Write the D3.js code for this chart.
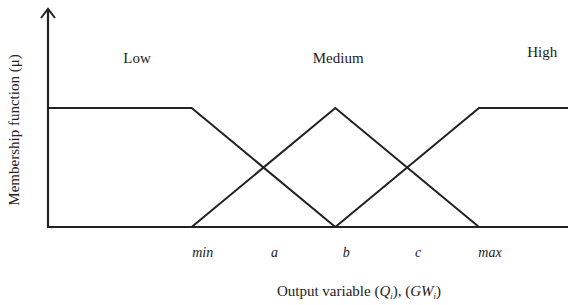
<!DOCTYPE html>
<html>
<head>
<meta charset="utf-8">
<script src="https://cdn.jsdelivr.net/npm/d3@7"></script>
<style>
  body { margin: 0; background: #fff; }
  text { font-family: "Liberation Serif", "DejaVu Serif", serif; fill: #222; }
</style>
</head>
<body>
<script>
// membership functions for the output variable
var tickNames = ["min", "a", "b", "c", "max"];
var tickValues = [1, 1.5, 2, 2.5, 3];
var setNames = ["Low", "Medium", "High"];
var lowX = [0, 1, 2];
var lowMu = [1, 1, 0];
var mediumX = [1, 2, 3];
var mediumMu = [0, 1, 0];
var highX = [2, 3, 3.62];
var highMu = [0, 1, 1];

var width = 568;
var height = 305;

var x = d3.scaleLinear().domain([0, 3]).range([48, 479]);
var y = d3.scaleLinear().domain([0, 1]).range([227, 108]);

var svg = d3.select("body").append("svg")
	.attr("width", width)
	.attr("height", height);

var series = [
	{name: setNames[0], xs: lowX, mu: lowMu, lx: 0.62, ly: 63},
	{name: setNames[1], xs: mediumX, mu: mediumMu, lx: 2.02, ly: 63},
	{name: setNames[2], xs: highX, mu: highMu, lx: 3.44, ly: 57}
];

var line = d3.line()
	.x(function(d){return x(d[0]);})
	.y(function(d){return y(d[1]);});

svg.selectAll("path.mf")
	.data(series)
	.enter().append("path")
	.attr("class", "mf")
	.attr("d", function(s){return line(s.xs.map(function(v, i){return [v, s.mu[i]];}));})
	.attr("fill", "none")
	.attr("stroke", "#222")
	.attr("stroke-width", 2);

svg.selectAll("text.setname")
	.data(series)
	.enter().append("text")
	.attr("class", "setname")
	.attr("x", function(s){return x(s.lx);})
	.attr("y", function(s){return s.ly;})
	.attr("text-anchor", "middle")
	.style("font-size", "15px")
	.text(function(s){return s.name;});

// axes
svg.append("line")
	.attr("x1", x(0)).attr("x2", width)
	.attr("y1", y(0)).attr("y2", y(0))
	.attr("stroke", "#222").attr("stroke-width", 2.2);

svg.append("line")
	.attr("x1", x(0)).attr("x2", x(0))
	.attr("y1", y(0) + 1).attr("y2", 9)
	.attr("stroke", "#222").attr("stroke-width", 2.2);

svg.append("path")
	.attr("d", "M" + (x(0) - 7) + ",18 L" + x(0) + ",9 L" + (x(0) + 7) + ",18")
	.attr("fill", "none")
	.attr("stroke", "#222")
	.attr("stroke-width", 2);

svg.selectAll("text.tick")
	.data(tickValues)
	.enter().append("text")
	.attr("class", "tick")
	.attr("x", function(d){return x(d) + 11;})
	.attr("y", 257)
	.attr("text-anchor", "middle")
	.style("font-size", "14px")
	.style("font-style", "italic")
	.text(function(d, i){return tickNames[i];});

// axis titles
var xt = svg.append("text")
	.attr("x", 359)
	.attr("y", 296)
	.attr("text-anchor", "middle")
	.style("font-size", "15px");
xt.append("tspan").text("Output variable (");
xt.append("tspan").style("font-style", "italic").text("Q");
xt.append("tspan").style("font-style", "italic").style("font-size", "9px").attr("dy", 3).text("i");
xt.append("tspan").attr("dy", -3).text("), (");
xt.append("tspan").style("font-style", "italic").text("GW");
xt.append("tspan").style("font-style", "italic").style("font-size", "9px").attr("dy", 3).text("i");
xt.append("tspan").attr("dy", -3).text(")");

svg.append("text")
	.attr("transform", "translate(19,130) rotate(-90)")
	.attr("text-anchor", "middle")
	.style("font-size", "15px")
	.text("Membership function (\u03bc)");
</script>
</body>
</html>
